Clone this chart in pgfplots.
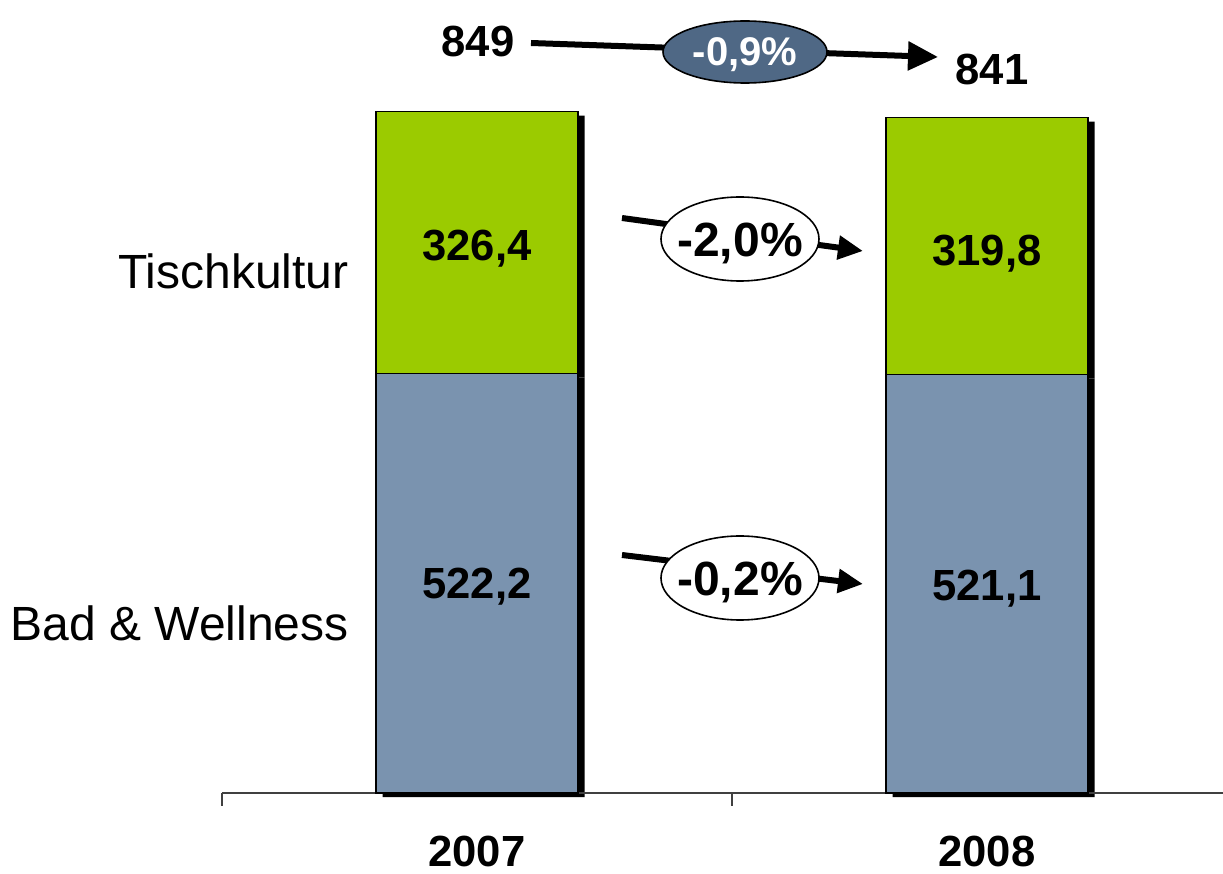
\documentclass[border=0pt]{standalone}
\usepackage{fontspec}
\setmainfont{Liberation Sans}
\usepackage{pgfplots}
\pgfplotsset{compat=1.18}
\usetikzlibrary{arrows.meta}

\definecolor{barblue}{HTML}{7A93AF}
\definecolor{bargreen}{HTML}{9BCB00}
\definecolor{ellblue}{HTML}{4F6885}
\definecolor{axgray}{HTML}{404040}

\pgfplotsset{base/.style={
  at={(0pt,0pt)}, anchor=south west,
  scale only axis, width=500.5pt, height=396.5pt,
  xmin=-0.5, xmax=1.4627, ymin=0, ymax=987.5,
  ybar stacked, bar width=101pt, clip=false}}

\begin{document}
\begin{tikzpicture}
\useasboundingbox (-111pt,-40.5pt) rectangle (500.5pt,396.5pt);
% shadow axis
\begin{axis}[base, hide axis]
\addplot[fill=black, draw=none, bar shift=3.25pt, yshift=-2pt] coordinates {(0,522.2) (1,521.1)};
\addplot[fill=black, draw=none, bar shift=3.25pt, yshift=-2pt] coordinates {(0,326.4) (1,319.8)};
\end{axis}
% main axis
\begin{axis}[base,
  axis x line*=bottom, axis y line=none,
  axis line style={-, axgray, line width=1pt},
  xtick={-0.5,0.5}, xticklabels={},
  major tick length=6.5pt, tick align=outside,
  tick style={axgray, line width=1pt},
  ytick=\empty,
]
\addplot[fill=barblue, draw=black, line width=0.75pt] coordinates {(0,522.2) (1,521.1)};
\addplot[fill=bargreen, draw=black, line width=0.75pt] coordinates {(0,326.4) (1,319.8)};
\end{axis}
\begin{scope}[x=0.5pt, y=-0.5pt, shift={(-111pt,396.5pt)},
  bnum/.style={font=\bfseries\fontsize{21.8}{24}\selectfont, inner sep=0pt, anchor=base},
  lab/.style={font=\fontsize{24}{28}\selectfont, inner sep=0pt, anchor=base east}]
  % category labels on the axis
  \node[bnum] at (477,866) {2007};
  \node[bnum] at (987,866) {2008};
  % series labels
  \node[lab] at (349,289) {Tischkultur};
  \node[lab] at (349,641) {Bad \& Wellness};
  % values in bars
  \node[bnum] at (477,261) {326,4};
  \node[bnum] at (477,599) {522,2};
  \node[bnum] at (987,266) {319,8};
  \node[bnum] at (987,601) {521,1};
  % totals
  \node[bnum] at (478,57) {849};
  \node[bnum] at (992,85) {841};
  % total change arrow
  \draw[line width=3pt, -{Triangle[length=15pt,width=14pt]}] (531,43) -- (938,57);
  \draw[fill=ellblue, draw=black, line width=0.8pt] (745,52) ellipse [x radius=41pt, y radius=15.5pt];
  \node[font=\bfseries\fontsize{20}{22}\selectfont, text=white, inner sep=0pt, anchor=base] at (745,66) {-0,9\%};
  % Tischkultur change
  \draw[line width=3pt, -{Triangle[length=12.5pt,width=11.5pt]}] (622,218) -- (863,251);
  \draw[fill=white, draw=black, line width=0.8pt] (740,239) ellipse [x radius=39.5pt, y radius=21pt];
  \node[font=\bfseries\fontsize{24}{28}\selectfont, inner sep=0pt, anchor=base] at (740,257) {-2,0\%};
  % Bad & Wellness change
  \draw[line width=3pt, -{Triangle[length=12.5pt,width=11.5pt]}] (622,555) -- (863,584);
  \draw[fill=white, draw=black, line width=0.8pt] (740,578) ellipse [x radius=39.5pt, y radius=21pt];
  \node[font=\bfseries\fontsize{24}{28}\selectfont, inner sep=0pt, anchor=base] at (740,595) {-0,2\%};
\end{scope}
\end{tikzpicture}
\end{document}
